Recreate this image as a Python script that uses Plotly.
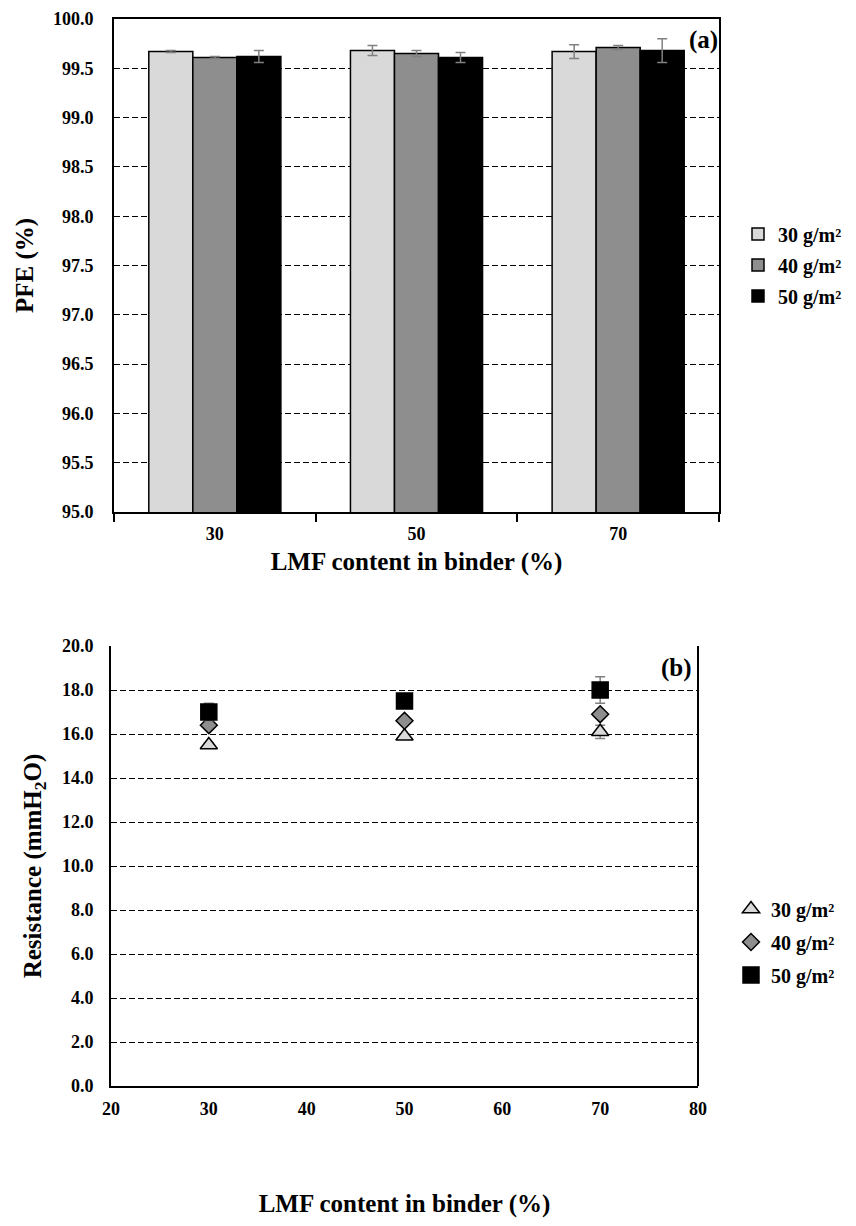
import plotly.graph_objects as go

categories = ["30", "50", "70"]
series_names = ["30 g/m²", "40 g/m²", "50 g/m²"]
pfe_values = [
    [99.67, 99.68, 99.67],
    [99.61, 99.65, 99.71],
    [99.62, 99.61, 99.68],
]
pfe_errors = [
    [0.01, 0.05, 0.07],
    [0.01, 0.03, 0.02],
    [0.06, 0.05, 0.12],
]
lmf_x = [30, 50, 70]
res_values = [
    [15.5, 15.9, 16.1],
    [16.4, 16.6, 16.9],
    [17.0, 17.5, 18.0],
]
res_errors = [
    [0.1, 0.1, 0.3],
    [0.1, 0.1, 0.1],
    [0.4, 0.1, 0.6],
]

bar_colors = ["#D9D9D9", "#8E8E8E", "#000000"]
marker_symbols = ["triangle-up", "diamond", "square"]
marker_fills = ["#D9D9D9", "#8E8E8E", "#000000"]
marker_sizes = [15, 13, 16]

# page body has an 8px default margin; work in screen coords of the reference
OFF = 8
W, H = 856 - OFF, 1226 - OFF
FONT = "Liberation Serif, Times New Roman, serif"

fig = go.Figure()

for i, name in enumerate(series_names):
    fig.add_trace(go.Bar(
        x=categories, y=pfe_values[i], name=name,
        marker=dict(color=bar_colors[i], line=dict(color="black", width=1.5)),
        error_y=dict(type="data", array=pfe_errors[i], color="#808080", thickness=1.5, width=5),
        xaxis="x", yaxis="y", legend="legend", legendgroup=f"a{i}",
    ))

for i, name in enumerate(series_names):
    fig.add_trace(go.Scatter(
        x=lmf_x, y=res_values[i], name=name, mode="markers",
        marker=dict(symbol=marker_symbols[i], size=marker_sizes[i], color=marker_fills[i],
                    line=dict(color="black", width=1.5)),
        error_y=dict(type="data", array=res_errors[i], color="#808080", thickness=1.5, width=5),
        xaxis="x2", yaxis="y2", legend="legend2", legendgroup=f"b{i}",
    ))

def py(pix):
    return 1 - (pix - OFF) / H

def px(pix):
    return (pix - OFF) / W

tickfont = dict(family=FONT, size=18, color="black", weight="bold")
titlefont = dict(family=FONT, size=25, color="black", weight="bold")
legfont = dict(family=FONT, size=20, color="black", weight="bold")
GDASH = "6px,3px"

fig.update_layout(
    width=W, height=H,
    margin=dict(l=0, r=0, t=0, b=0, autoexpand=False),
    paper_bgcolor="white", plot_bgcolor="white",
    barmode="group", bargap=0.345, bargroupgap=0,
    font=dict(family=FONT, color="black"),
    xaxis=dict(
        domain=[px(114), px(719)], anchor="y", automargin=False,
        type="category", showgrid=False,
        showline=True, linecolor="black", linewidth=2, mirror=True,
        ticks="outside", tickson="boundaries", ticklen=8, tickcolor="black", tickwidth=1.5,
        tickfont=tickfont, ticklabelstandoff=4,
        title=dict(text="LMF content in binder (%)", font=titlefont, standoff=10),
    ),
    yaxis=dict(
        domain=[py(512), py(19)], anchor="x", automargin=False,
        range=[95, 100], dtick=0.5, tickformat=".1f",
        showgrid=True, gridcolor="black", griddash=GDASH, gridwidth=1,
        showline=True, linecolor="black", linewidth=2, mirror=True,
        ticks="", tickfont=tickfont, zeroline=False, ticklabelstandoff=15,
        title=dict(text="PFE (%)", font=titlefont, standoff=12),
    ),
    xaxis2=dict(
        domain=[px(111), px(698)], anchor="y2", automargin=False,
        range=[20, 80], dtick=10, showgrid=False,
        showline=True, linecolor="black", linewidth=2, mirror=False,
        ticks="", tickfont=tickfont, zeroline=False, ticklabelstandoff=5,
        title=dict(text="LMF content in binder (%)", font=titlefont, standoff=77),
    ),
    yaxis2=dict(
        domain=[py(1086), py(646)], anchor="x2", automargin=False,
        range=[0, 20], dtick=2, tickformat=".1f",
        showgrid=True, gridcolor="black", griddash=GDASH, gridwidth=1,
        showline=True, linecolor="black", linewidth=2, mirror=False,
        ticks="", tickfont=tickfont, zeroline=False, ticklabelstandoff=12,
        title=dict(text="Resistance (mmH<sub>2</sub>O)", font=titlefont, standoff=13),
    ),
    legend=dict(
        x=px(738), y=py(265), xanchor="left", yanchor="middle",
        font=legfont, tracegroupgap=2, itemwidth=30, bgcolor="rgba(0,0,0,0)",
    ),
    legend2=dict(
        x=px(731), y=py(942), xanchor="left", yanchor="middle",
        font=legfont, tracegroupgap=4, itemwidth=30, bgcolor="rgba(0,0,0,0)",
    ),
    annotations=[
        dict(text="(a)", x=px(720), y=py(40), xref="paper", yref="paper",
             xanchor="right", yanchor="middle", showarrow=False, font=titlefont),
        dict(text="(b)", x=px(694), y=py(668), xref="paper", yref="paper",
             xanchor="right", yanchor="middle", showarrow=False, font=titlefont),
    ],
)

fig.add_shape(type="line", xref="paper", yref="paper",
              x0=px(698), x1=px(698), y0=py(1086), y1=py(646),
              line=dict(color="black", width=2))

fig.write_html("out.html")
